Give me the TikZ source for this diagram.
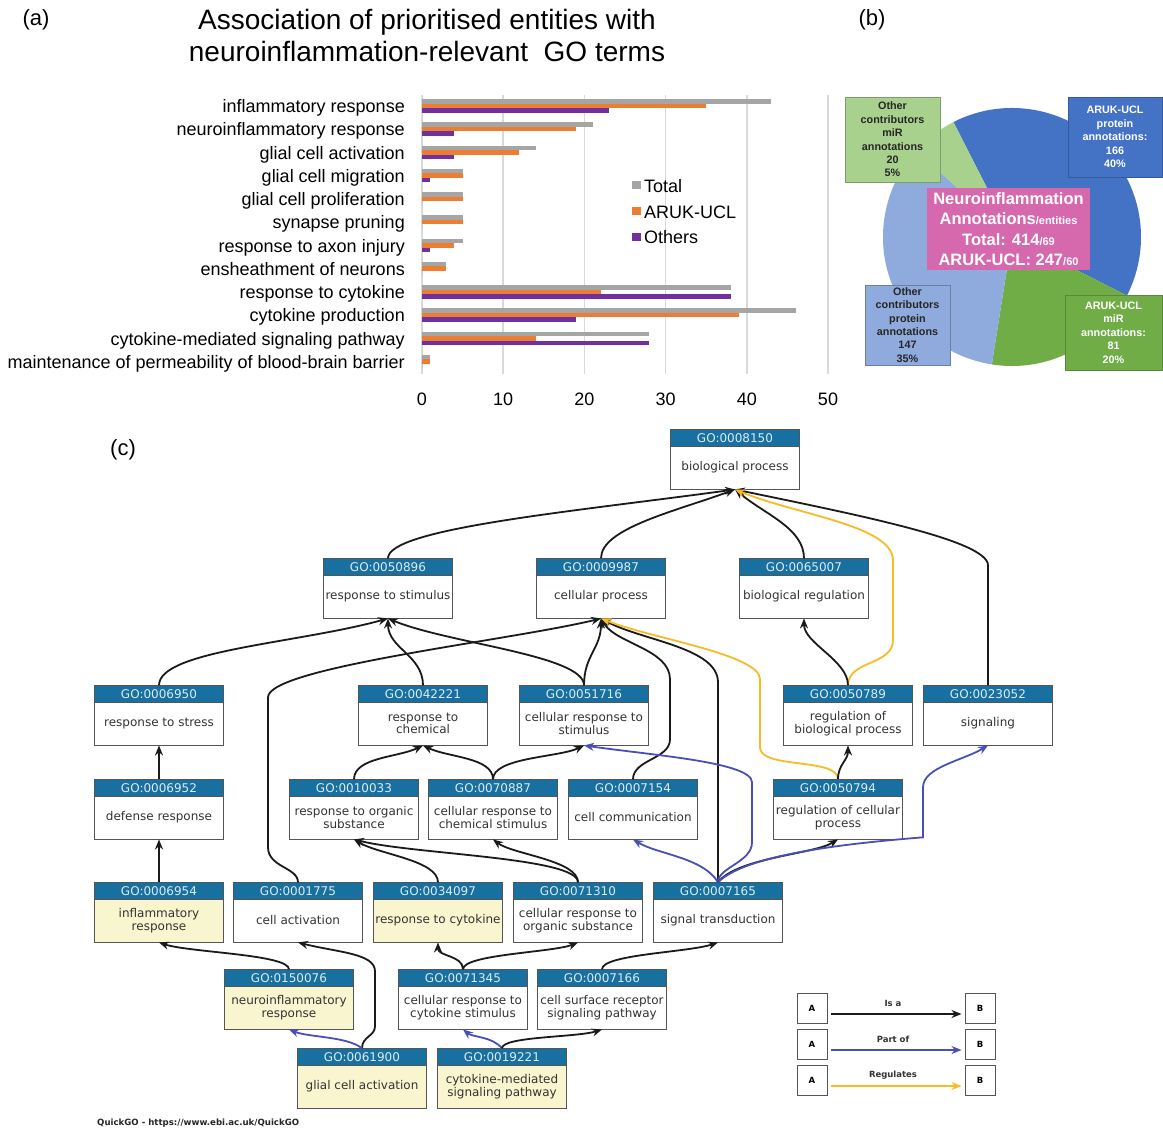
\documentclass[tikz,border=0pt]{standalone}
\usepackage{fontspec}
\setmainfont{Liberation Sans}
\newfontfamily\dvfont{DejaVu Sans}
\usetikzlibrary{arrows.meta,calc}
\definecolor{cgray}{HTML}{A5A5A5}
\definecolor{corange}{HTML}{ED7D31}
\definecolor{cpurple}{HTML}{7030A0}
\definecolor{cgrid}{HTML}{D9D9D9}
\definecolor{pdark}{HTML}{4472C4}
\definecolor{pgreen}{HTML}{70AD47}
\definecolor{plblue}{HTML}{8FAADC}
\definecolor{plgreen}{HTML}{A9D18E}
\definecolor{ppink}{HTML}{D668AE}
\definecolor{gohead}{HTML}{17709F}
\definecolor{goheadtxt}{HTML}{DCEBF3}
\definecolor{goborder}{HTML}{555555}
\definecolor{gotxt}{HTML}{333333}
\definecolor{goyellow}{HTML}{F8F5CF}
\definecolor{eblack}{HTML}{1A1A1A}
\definecolor{eblue}{HTML}{4A4FB5}
\definecolor{eyellow}{HTML}{F6BC25}
\newcommand\gobox[6]{%
  \node[gohd] (#1h) at (#2,#3+8) {GO:#4};
  \node[gobd,fill=#6] (#1) at (#2,#3+37.5) {#5};
}
\begin{document}
\begin{tikzpicture}[x=1pt,y=-1pt,
  panlab/.style={font=\fontsize{22}{26}\selectfont, inner sep=0pt},
  ttl/.style={font=\fontsize{28}{32}\selectfont, inner sep=0pt, anchor=base},
  cat/.style={anchor=base east, font=\fontsize{18}{20}\selectfont, inner sep=0pt},
  tick/.style={anchor=base, font=\fontsize{18}{20}\selectfont, inner sep=0pt},
  leg/.style={anchor=base west, font=\fontsize{18}{20}\selectfont, inner sep=0pt},
  piebox/.style={align=center, inner sep=0pt, line width=0.8pt, font=\bfseries\fontsize{10.8}{13.4}\selectfont},
  gohd/.style={fill=gohead, draw=goborder, line width=0.9pt, minimum width=129pt, minimum height=16.5pt, inner sep=0pt, text=goheadtxt, font=\dvfont\fontsize{12}{12}\selectfont},
  gobd/.style={draw=goborder, line width=0.9pt, minimum width=129pt, minimum height=43pt, inner sep=0pt, align=center, text=gotxt, font=\dvfont\fontsize{12}{12.5}\selectfont},
  isa/.style={draw=eblack, line width=1.8pt, -{Stealth[length=10pt,width=8pt]}},
  partof/.style={isa, draw=eblue},
  regs/.style={isa, draw=eyellow},
  lgbox/.style={draw=goborder, line width=1pt, minimum width=30pt, minimum height=30pt, inner sep=0pt, font=\dvfont\bfseries\fontsize{8.5}{9}\selectfont},
  lgtxt/.style={font=\dvfont\bfseries\fontsize{8.5}{9}\selectfont, inner sep=0pt, text=gotxt}
]
\useasboundingbox (0,0) rectangle (1163,1128);
\fill[white] (0,0) rectangle (1163,1128);

% ---------------- panel labels and title
\node[panlab] (la) at (36,20) {(a)};
\node[panlab] (lb) at (872,20) {(b)};
\node[panlab] (lc) at (123,450) {(c)};
\node[ttl] (t1) at (427,29) {Association of prioritised entities with};
\node[ttl] (t2) at (427,61) {neuroinflammation-relevant\ \ GO terms};

% ---------------- bar chart
\foreach \k in {0,...,5} {
  \draw[cgrid, line width=1.6pt] (422+\k*81.2,95) -- (422+\k*81.2,374);
  \pgfmathtruncatemacro\tv{\k*10}
  \node[tick, name=tk\k] at (422+\k*81.2,405) {\tv};
}
\foreach \i/\t/\a/\o in {1/43/35/23, 2/21/19/4, 3/14/12/4, 4/5/5/1, 5/5/5/0, 6/5/5/0, 7/5/4/1, 8/3/3/0, 9/38/22/38, 10/46/39/19, 11/28/14/28, 12/1/1/0} {
  \pgfmathsetmacro\yc{106+(\i-1)*23.25}
  \fill[cgray] (422,\yc-6.8) rectangle (422+\t*8.12,\yc-2.3);
  \fill[corange] (422,\yc-2.3) rectangle (422+\a*8.12,\yc+2.2);
  \fill[cpurple] (422,\yc+2.2) rectangle (422+\o*8.12,\yc+6.7);
}
\foreach \i/\txt in {1/inflammatory response, 2/neuroinflammatory response, 3/glial cell activation, 4/glial cell migration, 5/glial cell proliferation, 6/synapse pruning, 7/response to axon injury, 8/ensheathment of neurons, 9/response to cytokine, 10/cytokine production, 11/cytokine-mediated signaling pathway, 12/maintenance of permeability of blood-brain barrier} {
  \pgfmathsetmacro\yc{106+(\i-1)*23.25}
  \node[cat, name=cl\i] at (405,\yc+6.5) {\txt};
}
\fill[cgray] (632,181) rectangle (641,189);
\node[leg] (lgt) at (644,192) {Total};
\fill[corange] (632,207) rectangle (641,215);
\node[leg] (lga) at (644,218) {ARUK-UCL};
\fill[cpurple] (632,233) rectangle (641,241);
\node[leg] (lgo) at (644,243) {Others};

% ---------------- pie chart
\begin{scope}[shift={(1012,237)}, yscale=-1]
  \fill[pdark] (0,0) -- (117:129) arc[start angle=117, end angle=-27, radius=129] -- cycle;
  \fill[pgreen] (0,0) -- (-27:129) arc[start angle=-27, end angle=-99, radius=129] -- cycle;
  \fill[plblue] (0,0) -- (-99:129) arc[start angle=-99, end angle=-222, radius=129] -- cycle;
  \fill[plgreen] (0,0) -- (138:129) arc[start angle=138, end angle=117, radius=129] -- cycle;
\end{scope}
\node[piebox, fill=plgreen, draw=plgreen!75!black, minimum width=95pt, minimum height=85pt, text=black!85] (pb1) at (892.5,139.5) {Other\\contributors\\miR\\annotations\\20\\5\%};
\node[piebox, fill=pdark, draw=pdark!80!black, minimum width=94pt, minimum height=80pt, text=white] (pb2) at (1115,137) {ARUK-UCL\\protein\\annotations:\\166\\40\%};
\node[piebox, fill=plblue, draw=plblue!75!black, minimum width=85pt, minimum height=80pt, text=black!85] (pb3) at (907.5,325) {Other\\contributors\\protein\\annotations\\147\\35\%};
\node[piebox, fill=pgreen, draw=pgreen!80!black, minimum width=97pt, minimum height=75pt, text=white] (pb4) at (1113.5,332.5) {ARUK-UCL\\miR\\annotations:\\81\\20\%};
\node[align=center, inner sep=0pt, fill=ppink, text=white, minimum width=163pt, minimum height=82pt, font=\bfseries\fontsize{16.5}{20.5}\selectfont] (pc) at (1008.5,229) {Neuroinflammation\\Annotations{\fontsize{11}{11}\selectfont/entities}\\Total: 414{\fontsize{11}{11}\selectfont/69}\\ARUK-UCL: 247{\fontsize{11}{11}\selectfont/60}};

% ---------------- GO graph
\gobox{g8150}{735}{430}{0008150}{biological process}{white}
\gobox{g50896}{388}{559}{0050896}{response to stimulus}{white}
\gobox{g9987}{601}{559}{0009987}{cellular process}{white}
\gobox{g65007}{804}{559}{0065007}{biological regulation}{white}
\gobox{g6950}{159}{686}{0006950}{response to stress}{white}
\gobox{g42221}{423}{686}{0042221}{response to\\chemical}{white}
\gobox{g51716}{584}{686}{0051716}{cellular response to\\stimulus}{white}
\gobox{g50789}{848}{686}{0050789}{regulation of\\biological process}{white}
\gobox{g23052}{988}{686}{0023052}{signaling}{white}
\gobox{g6952}{159}{780}{0006952}{defense response}{white}
\gobox{g10033}{354}{780}{0010033}{response to organic\\substance}{white}
\gobox{g70887}{493}{780}{0070887}{cellular response to\\chemical stimulus}{white}
\gobox{g7154}{633}{780}{0007154}{cell communication}{white}
\gobox{g50794}{838}{780}{0050794}{regulation of cellular\\process}{white}
\gobox{g6954}{159}{883}{0006954}{inflammatory\\response}{goyellow}
\gobox{g1775}{298}{883}{0001775}{cell activation}{white}
\gobox{g34097}{438}{883}{0034097}{response to cytokine}{goyellow}
\gobox{g71310}{578}{883}{0071310}{cellular response to\\organic substance}{white}
\gobox{g7165}{718}{883}{0007165}{signal transduction}{white}
\gobox{g150076}{289}{970}{0150076}{neuroinflammatory\\response}{goyellow}
\gobox{g71345}{463}{970}{0071345}{cellular response to\\cytokine stimulus}{white}
\gobox{g7166}{602}{970}{0007166}{cell surface receptor\\signaling pathway}{white}
\gobox{g61900}{362}{1049}{0061900}{glial cell activation}{goyellow}
\gobox{g19221}{502}{1049}{0019221}{cytokine-mediated\\signaling pathway}{goyellow}

% edges to biological process
\draw[isa] (g50896h.north) .. controls +(0,-30) and +(-160,22) .. (g8150.south);
\draw[isa] (g9987h.north) .. controls +(0,-30) and +(-60,22) .. (g8150.south);
\draw[isa] (g65007h.north) .. controls +(0,-30) and +(30,25) .. (g8150.south);
\draw[isa] (g23052h.north) -- ++(0,-120) .. controls +(0,-25) and +(120,25) .. (g8150.south);
\draw[regs] (g50789h.north) .. controls +(0,-25) and +(0,25) .. ++(45,-45) -- ++(0,-80) .. controls +(0,-35) and +(60,25) .. (g8150.south);
% second level
\draw[isa] (g50789h.north) .. controls +(0,-25) and +(0,25) .. (g65007.south);
\draw[isa] (g6950h.north) .. controls +(0,-35) and +(-90,25) .. (g50896.south);
\draw[isa] (g42221h.north) .. controls +(0,-30) and +(0,30) .. (g50896.south);
\draw[isa] (g51716h.north) .. controls +(0,-30) and +(60,25) .. (g50896.south);
\draw[isa] (g51716h.north) .. controls +(0,-30) and +(0,30) .. (g9987.south);
\draw[isa] (g1775h.north) .. controls +(0,-15) and +(0,20) .. ++(-30,-35) -- ++(0,-150) .. controls +(0,-30) and +(-90,22) .. (g9987.south);
\draw[isa] (g7154h.north) .. controls +(0,-20) and +(0,20) .. ++(37,-40) -- ++(0,-60) .. controls +(0,-30) and +(15,25) .. (g9987.south);
\draw[isa] (g7165h.north) -- ++(0,-200) .. controls +(0,-35) and +(40,22) .. (g9987.south);
\draw[regs] (g50794h.north) .. controls +(0,-22) and +(0,22) .. ++(-78,-32) -- ++(0,-68) .. controls +(0,-25) and +(50,20) .. (g9987.south);
\draw[isa] (g50794h.north) .. controls +(0,-15) and +(0,15) .. (g50789.south);
\draw[isa] (g6952h.north) -- (g6950.south);
\draw[isa] (g6954h.north) -- (g6952.south);
\draw[isa] (g10033h.north) .. controls +(0,-22) and +(-25,12) .. (g42221.south);
\draw[isa] (g70887h.north) .. controls +(0,-22) and +(25,12) .. (g42221.south);
\draw[isa] (g70887h.north) .. controls +(0,-22) and +(-25,12) .. (g51716.south);
\draw[partof] (g7165h.north) .. controls +(0,-15) and +(0,20) .. ++(34,-40) -- ++(0,-60) .. controls +(0,-20) and +(70,10) .. (g51716.south);
\draw[partof] (g7165h.north) .. controls +(-15,-25) and +(25,15) .. (g7154.south);
\draw[isa] (g7165h.north) .. controls +(20,-25) and +(-25,15) .. (g50794.south);
\draw[partof] (g7165h.north) .. controls +(30,-30) and +(-60,5) .. ++(205,-45) -- ++(0,-50) .. controls +(0,-20) and +(-25,15) .. (g23052.south);
\draw[isa] (g34097h.north) .. controls +(0,-22) and +(25,15) .. (g10033.south);
\draw[isa] (g71310h.north) .. controls +(0,-25) and +(60,15) .. (g10033.south);
\draw[isa] (g71310h.north) .. controls +(0,-22) and +(20,15) .. (g70887.south);
\draw[isa] (g150076h.north) .. controls +(0,-15) and +(30,10) .. (g6954.south);
\draw[isa] (g61900h.north) .. controls +(0,-12) and +(0,10) .. ++(13,-22) -- ++(0,-55) .. controls +(0,-18) and +(40,10) .. (g1775.south);
\draw[partof] (g61900h.north) .. controls +(-15,-12) and +(20,8) .. (g150076.south);
\draw[isa] (g71345h.north) .. controls +(0,-14) and +(0,14) .. (g34097.south);
\draw[isa] (g71345h.north) .. controls +(0,-15) and +(-25,10) .. (g71310.south);
\draw[isa] (g7166h.north) .. controls +(0,-15) and +(-30,10) .. (g7165.south);
\draw[partof] (g19221h.north) .. controls +(-10,-12) and +(10,8) .. (g71345.south);
\draw[isa] (g19221h.north) .. controls +(0,-12) and +(-25,8) .. (g7166.south);

% legend
\foreach \r/\y/\lbl/\st in {1/1008/Is a/isa, 2/1044/Part of/partof, 3/1080/Regulates/regs} {
  \node[lgbox, name=la\r] at (812,\y) {A};
  \node[lgbox, name=lb\r] at (980,\y) {B};
  \draw[\st, line width=1.6pt] ($(la\r.east)+(3,6)$) -- ($(lb\r.west)+(-3,6)$);
  \node[lgtxt, name=lt\r] at (893,\y-5) {\lbl};
}
\node[anchor=base west, inner sep=0pt, font=\dvfont\bfseries\fontsize{8.6}{9}\selectfont, text=black!85] (qg) at (97,1125) {QuickGO - https://www.ebi.ac.uk/QuickGO};
\end{tikzpicture}
\end{document}
